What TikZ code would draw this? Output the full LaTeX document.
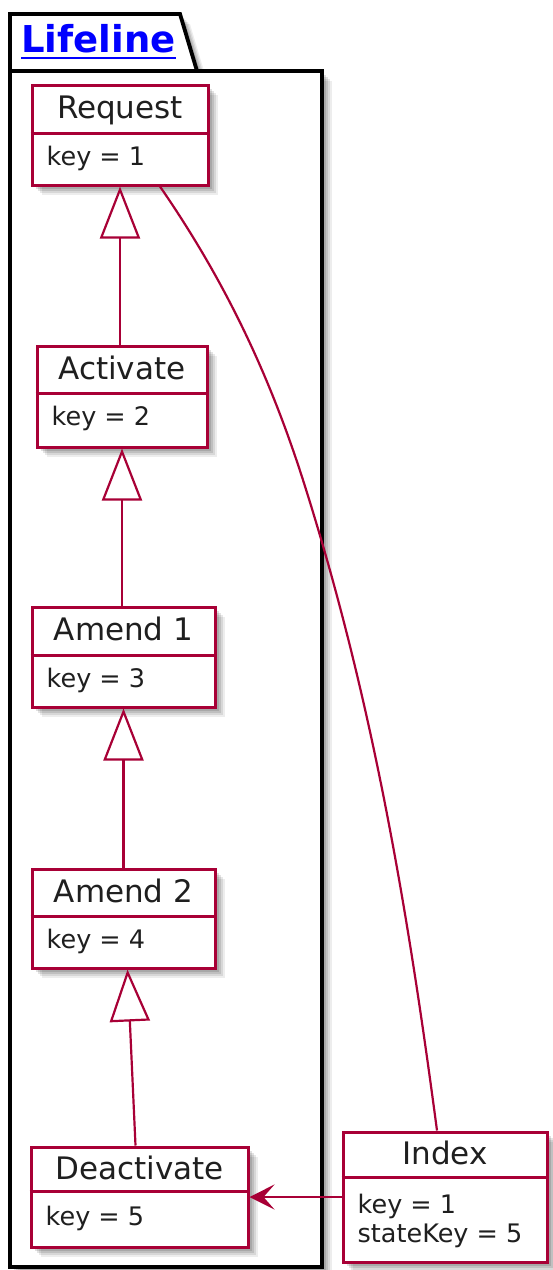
\documentclass[tikz,border=0pt]{standalone}
\usepackage{fontspec}
\setmainfont{DejaVu Sans}
\usetikzlibrary{arrows.meta, shadows}
\definecolor{umlred}{HTML}{A80036}
\definecolor{umlblue}{HTML}{0000FF}

\begin{document}
\begin{tikzpicture}[x=1pt, y=-1pt,
    soft shadow/.style={
        drop shadow={shadow xshift=2pt, shadow yshift=-2pt, fill=black, opacity=.12},
        drop shadow={shadow xshift=4pt, shadow yshift=-4pt, fill=black, opacity=.12},
        drop shadow={shadow xshift=6pt, shadow yshift=-6pt, fill=black, opacity=.11},
        drop shadow={shadow xshift=8pt, shadow yshift=-8pt, fill=black, opacity=.09},
        drop shadow={shadow xshift=10pt, shadow yshift=-10pt, fill=black, opacity=.07}},
    pkg/.style={draw=black, fill=white, line width=3.8pt, line join=miter, soft shadow},
    obj/.style={rectangle, draw=umlred, fill=white, line width=3pt, inner sep=0pt, soft shadow},
    objsep/.style={draw=umlred, line width=2.8pt},
    objname/.style={anchor=base, inner sep=0pt, font=\fontsize{31}{37}\selectfont, text=black!88},
    objfield/.style={anchor=base west, inner sep=0pt, font=\fontsize{25.5}{30}\selectfont, text=black!88},
    extends/.style={draw=umlred, line width=2.2pt, -{Triangle[length=52pt, width=40pt, fill=white]}},
    uses/.style={draw=umlred, line width=2.2pt, -{Stealth[length=25pt, width=25pt, inset=11pt]}},
    link/.style={draw=umlred, line width=2.2pt}
]
\useasboundingbox (0,0) rectangle (552,1270);

% package frame with its tab
\draw[pkg] (10,71) -- (10,14) -- (180,14) -- (197,71) -- cycle;
\draw[pkg] (10,71) rectangle (322,1267);
\node[anchor=base west, inner sep=0pt, text=umlblue,
      font=\bfseries\fontsize{37}{44}\selectfont] (pkgtitle) at (21,52) {Lifeline};
\draw[umlblue, line width=2.5pt] ([yshift=-6pt]pkgtitle.base west) -- ([yshift=-6pt]pkgtitle.base east);

% objects of the lifeline
\node[obj, minimum width=176pt, minimum height=100pt] (req) at (120,135) {};
\draw[objsep] ([yshift=-50pt]req.north west) -- ([yshift=-50pt]req.north east);
\node[objname] at ([yshift=-35pt]req.north) {Request};
\node[objfield] at ([xshift=16pt, yshift=-82pt]req.north west) {key = 1};

\node[obj, minimum width=170pt, minimum height=101pt] (act) at (122,396.5) {};
\draw[objsep] ([yshift=-49pt]act.north west) -- ([yshift=-49pt]act.north east);
\node[objname] at ([yshift=-35pt]act.north) {Activate};
\node[objfield] at ([xshift=16pt, yshift=-81pt]act.north west) {key = 2};

\node[obj, minimum width=183pt, minimum height=100pt] (amd1) at (123.5,657) {};
\draw[objsep] ([yshift=-50pt]amd1.north west) -- ([yshift=-50pt]amd1.north east);
\node[objname] at ([yshift=-35pt]amd1.north) {Amend 1};
\node[objfield] at ([xshift=16pt, yshift=-82pt]amd1.north west) {key = 3};

\node[obj, minimum width=183pt, minimum height=99pt] (amd2) at (123.5,918.5) {};
\draw[objsep] ([yshift=-49pt]amd2.north west) -- ([yshift=-49pt]amd2.north east);
\node[objname] at ([yshift=-35pt]amd2.north) {Amend 2};
\node[objfield] at ([xshift=16pt, yshift=-81pt]amd2.north west) {key = 4};

\node[obj, minimum width=217pt, minimum height=100pt] (deact) at (139.5,1197) {};
\draw[objsep] ([yshift=-46pt]deact.north west) -- ([yshift=-46pt]deact.north east);
\node[objname] at ([yshift=-34pt]deact.north) {Deactivate};
\node[objfield] at ([xshift=16pt, yshift=-80pt]deact.north west) {key = 5};

% index object outside the package
\node[obj, minimum width=204pt, minimum height=130pt] (idx) at (445,1197) {};
\draw[objsep] ([yshift=-47pt]idx.north west) -- ([yshift=-47pt]idx.north east);
\node[objname] at ([yshift=-34pt]idx.north) {Index};
\node[objfield] at ([xshift=16pt, yshift=-83pt]idx.north west) {key = 1};
\node[objfield] at ([xshift=16pt, yshift=-112pt]idx.north west) {stateKey = 5};

% links
\draw[extends] (act.north -| req.south) -- (req.south);
\draw[extends] (amd1.north -| act.south) -- (act.south);
\draw[extends] (amd2.north) -- (amd1.south);
\draw[extends] ([xshift=-4pt]deact.north) -- ([xshift=4pt]amd2.south);
\coordinate (bend) at (303,480);
\draw[link] ([xshift=40pt]req.south) .. controls (228,285) and (271,380) .. (bend)
    .. controls (373,700) and (408,912) .. ([xshift=-8pt]idx.north);
\draw[uses] (idx.west) -- (deact.east);
\end{tikzpicture}
\end{document}
